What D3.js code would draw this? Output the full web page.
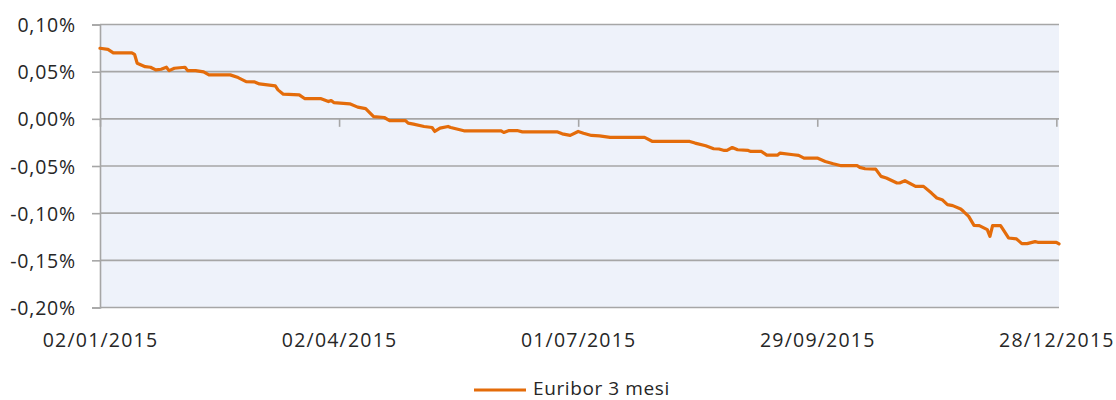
<!DOCTYPE html>
<html>
<head>
<meta charset="utf-8">
<script src="https://cdn.jsdelivr.net/npm/d3@7"></script>
<style>
  html, body { margin: 0; padding: 0; background: #ffffff; }
  svg { display: block; }
  text { font-family: "Open Sans", "Noto Sans", sans-serif; fill: #262626; }
</style>
</head>
<body>
<svg id="chart" width="1116" height="400"></svg>
<script>
// ---- data (Euribor 3 mesi, %, 2015) ----
const dates = [
  "2015-01-02","2015-01-05","2015-01-07","2015-01-14","2015-01-15","2015-01-16","2015-01-19","2015-01-21",
  "2015-01-23","2015-01-25","2015-01-27","2015-01-28","2015-01-30","2015-02-03","2015-02-04","2015-02-07",
  "2015-02-10","2015-02-12","2015-02-20","2015-02-23","2015-02-26","2015-03-01","2015-03-03","2015-03-06",
  "2015-03-09","2015-03-10","2015-03-12","2015-03-18","2015-03-20","2015-03-26","2015-03-29","2015-03-30",
  "2015-03-31","2015-04-06","2015-04-09","2015-04-12","2015-04-15","2015-04-19","2015-04-21","2015-04-27",
  "2015-04-28","2015-04-30","2015-05-04","2015-05-07","2015-05-08","2015-05-10","2015-05-13","2015-05-14",
  "2015-05-19","2015-06-02","2015-06-03","2015-06-05","2015-06-08","2015-06-10","2015-06-23","2015-06-25",
  "2015-06-28","2015-07-01","2015-07-03","2015-07-06","2015-07-09","2015-07-13","2015-07-26","2015-07-29",
  "2015-08-12","2015-08-14","2015-08-18","2015-08-21","2015-08-23","2015-08-25","2015-08-26","2015-08-28",
  "2015-08-30","2015-09-03","2015-09-04","2015-09-08","2015-09-10","2015-09-14","2015-09-15","2015-09-20",
  "2015-09-22","2015-09-24","2015-09-29","2015-10-02","2015-10-05","2015-10-08","2015-10-14","2015-10-15",
  "2015-10-17","2015-10-21","2015-10-23","2015-10-25","2015-10-29","2015-10-30","2015-11-01","2015-11-05",
  "2015-11-08","2015-11-11","2015-11-13","2015-11-15","2015-11-17","2015-11-19","2015-11-22","2015-11-23",
  "2015-11-25","2015-11-27","2015-11-29","2015-12-02","2015-12-03","2015-12-04","2015-12-07","2015-12-08",
  "2015-12-10","2015-12-13","2015-12-15","2015-12-17","2015-12-20","2015-12-21","2015-12-28","2015-12-29"
];
const euribor3m = [
  0.0748, 0.0737, 0.0700, 0.0700, 0.0684, 0.0590, 0.0553, 0.0547,
  0.0519, 0.0526, 0.0547, 0.0511, 0.0536, 0.0547, 0.0511, 0.0511,
  0.0497, 0.0466, 0.0466, 0.0437, 0.0395, 0.0392, 0.0370, 0.0360,
  0.0349, 0.0307, 0.0261, 0.0254, 0.0215, 0.0215, 0.0183, 0.0194,
  0.0172, 0.0159, 0.0124, 0.0109, 0.0024, 0.0014, -0.0018, -0.0018,
  -0.0046, -0.0056, -0.0081, -0.0092, -0.0134, -0.0099, -0.0081, -0.0092,
  -0.0127, -0.0127, -0.0145, -0.0124, -0.0124, -0.0138, -0.0138, -0.0159,
  -0.0176, -0.0134, -0.0152, -0.0176, -0.0180, -0.0197, -0.0197, -0.0240,
  -0.0240, -0.0257, -0.0286, -0.0317, -0.0320, -0.0335, -0.0335, -0.0304,
  -0.0328, -0.0335, -0.0346, -0.0346, -0.0385, -0.0385, -0.0363, -0.0381,
  -0.0388, -0.0416, -0.0416, -0.0452, -0.0476, -0.0497, -0.0497, -0.0515,
  -0.0529, -0.0533, -0.0610, -0.0628, -0.0680, -0.0680, -0.0656, -0.0716,
  -0.0716, -0.0787, -0.0839, -0.0857, -0.0910, -0.0920, -0.0956, -0.0980,
  -0.1034, -0.1129, -0.1132, -0.1175, -0.1245, -0.1132, -0.1132, -0.1175,
  -0.1263, -0.1273, -0.1323, -0.1323, -0.1302, -0.1309, -0.1309, -0.1326
];
const seriesName = "Euribor 3 mesi";
const yTicks = [-0.20, -0.15, -0.10, -0.05, 0.00, 0.05, 0.10];
const xTickDates = ["2015-01-02", "2015-04-02", "2015-07-01", "2015-09-29", "2015-12-28"];
const xDomain = ["2015-01-02", "2015-12-29"];

// ---- layout ----
const parse = d3.timeParse("%Y-%m-%d");
const fmtDate = d3.timeFormat("%d/%m/%Y");
const locale = d3.formatLocale({ decimal: ",", thousands: ".", grouping: [3], currency: ["", "€"], minus: "-" });
const fmtPct = v => locale.format(".2f")(v) + "%";

const plot = { left: 100, right: 1059, top: 24.5, bottom: 307.5 };
const svg = d3.select("#chart");

const x = d3.scaleTime().domain(xDomain.map(parse)).range([plot.left, plot.right]);
const y = d3.scaleLinear().domain([-0.20, 0.10]).range([plot.bottom, plot.top]);

const gridColor = "#A6A6A6";

// plot background
svg.append("rect")
  .attr("x", plot.left).attr("y", plot.top)
  .attr("width", plot.right - plot.left).attr("height", plot.bottom - plot.top)
  .attr("fill", "#EEF2FA");

// horizontal gridlines
svg.append("g").selectAll("line").data(yTicks).join("line")
  .attr("x1", plot.left).attr("x2", plot.right)
  .attr("y1", d => y(d)).attr("y2", d => y(d))
  .attr("stroke", gridColor).attr("stroke-width", 1.6);

// y axis
const yAxis = svg.append("g").attr("transform", `translate(${plot.left},0)`)
  .call(d3.axisLeft(y).tickValues(yTicks).tickSize(8).tickPadding(16).tickFormat(fmtPct));
yAxis.select(".domain").attr("stroke", gridColor).attr("stroke-width", 1.6);
yAxis.selectAll(".tick line").attr("stroke", gridColor).attr("stroke-width", 1.6);
yAxis.selectAll(".tick text")
  .style("font-size", "19.5px").style("letter-spacing", "0.8px")
  .attr("fill", "#262626").attr("dy", "0.36em");

// x axis ticks along the zero line
const xTicks = xTickDates.map(parse);
const xAxisZero = svg.append("g").attr("transform", `translate(0,${y(0)})`)
  .call(d3.axisBottom(x).tickValues(xTicks).tickSize(8).tickFormat(""));
xAxisZero.select(".domain").remove();
xAxisZero.selectAll(".tick line").attr("stroke", gridColor).attr("stroke-width", 1.6);

// x axis labels at the bottom
const xAxisLow = svg.append("g").attr("transform", `translate(0,${plot.bottom})`)
  .call(d3.axisBottom(x).tickValues(xTicks).tickSize(0).tickPadding(26).tickFormat(fmtDate));
xAxisLow.select(".domain").remove();
xAxisLow.selectAll(".tick text")
  .style("font-size", "19.5px").style("letter-spacing", "1.2px")
  .attr("fill", "#262626");

// series line
const data = dates.map((d, i) => ({ date: parse(d), value: euribor3m[i] }));
svg.append("path")
  .datum(data)
  .attr("fill", "none")
  .attr("stroke", "#E46C0A")
  .attr("stroke-width", 3.2)
  .attr("stroke-linejoin", "round")
  .attr("stroke-linecap", "round")
  .attr("d", d3.line().x(d => x(d.date)).y(d => y(d.value)));

// legend
const legend = svg.append("g");
legend.append("line")
  .attr("x1", 474).attr("x2", 526).attr("y1", 390).attr("y2", 390)
  .attr("stroke", "#E46C0A").attr("stroke-width", 3.2);
legend.append("text")
  .attr("x", 533).attr("y", 394.5)
  .style("font-size", "19px").style("letter-spacing", "0.6px")
  .text(seriesName);
</script>
</body>
</html>
